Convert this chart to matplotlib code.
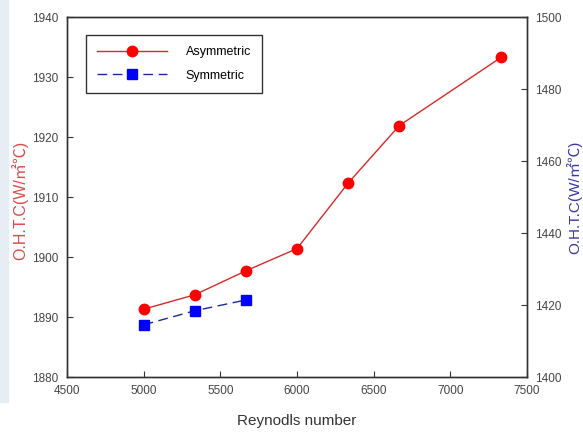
import matplotlib
matplotlib.use("Agg")
import matplotlib.pyplot as plt
import matplotlib.patches as mpatches

plt.rcParams['font.family'] = ['Liberation Sans', 'DejaVu Sans', 'Noto Sans CJK SC']

# data
re_asym = [5000, 5333, 5667, 6000, 6333, 6667, 7333]
ohtc_asym = [1891.3, 1893.7, 1897.7, 1901.4, 1912.3, 1921.9, 1933.3]
re_sym = [5000, 5333, 5667]
ohtc_sym = [1414.5, 1418.4, 1421.4]

left_ticks = [1880, 1890, 1900, 1910, 1920, 1930, 1940]
right_ticks = [1400, 1420, 1440, 1460, 1480, 1500]
x_ticks = [4500, 5000, 5500, 6000, 6500, 7000, 7500]

fig = plt.figure(figsize=(5.83, 4.32), dpi=100)
# pale strip at the left edge of the screenshot
fig.patches.append(mpatches.Rectangle((0, 0.07), 8 / 583, 0.93, transform=fig.transFigure,
                                      color='#e6edf5', zorder=0))

ax = fig.add_axes([67 / 583, 55 / 432, 460 / 583, 360 / 432])
ax2 = ax.twinx()

l1, = ax.plot(re_asym, ohtc_asym, color='#d82828', lw=1.0, marker='o', ms=7.5,
              mfc='#ff0000', mec='#ff0000', label='Asymmetric')
l2, = ax2.plot(re_sym, ohtc_sym, color='#1a2a9a', lw=1.0, ls=(0, (7, 4)), marker='s', ms=6.5,
               mfc='#0000ff', mec='#0000ff', label='Symmetric')

ax.set_xlim(4500, 7500)
ax.set_ylim(1880, 1940)
ax2.set_ylim(1400, 1500)
ax.set_xticks(x_ticks)
ax.set_yticks(left_ticks)
ax2.set_yticks(right_ticks)

for a in (ax, ax2):
    a.tick_params(direction='in', length=4, width=0.8, labelsize=8.5, labelcolor='#444444',
                  color='#333333', pad=6)
    for s in a.spines.values():
        s.set_linewidth(1.0)
        s.set_color('#333333')

ylab = 'O.H.T.C(W/㎡℃)'
ax.set_xlabel('Reynodls number', fontsize=11, color='#333333', labelpad=12)
ax.set_ylabel(ylab, fontsize=11.5, color='#e04848',
              family=['Liberation Sans', 'Noto Sans CJK SC'])
ax.yaxis.set_label_coords(-0.085, 0.49)
ax2.set_ylabel(ylab, fontsize=11, color='#3838a8',
               family=['Liberation Sans', 'Noto Sans CJK SC'])
ax2.yaxis.set_label_coords(1.086, 0.5)

leg = ax.legend(handles=[l1, l2], loc='upper left', bbox_to_anchor=(0.041, 0.95),
                fontsize=9, fancybox=False, framealpha=1, edgecolor='#333333',
                handlelength=5.6, labelspacing=0.9, borderpad=0.9, handletextpad=1.5,
                borderaxespad=0)
leg.get_frame().set_linewidth(1.0)

fig.savefig('out.png', dpi=100)
